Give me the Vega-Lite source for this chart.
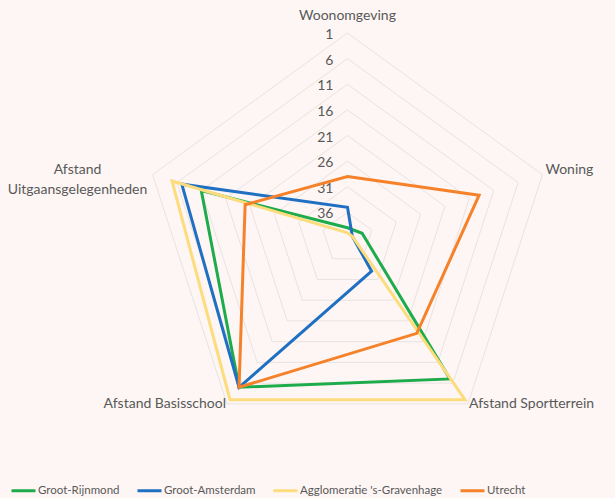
{
  "$schema": "https://vega.github.io/schema/vega-lite/v6.json",
  "width": 615,
  "height": 498,
  "autosize": {"type": "none"},
  "padding": 0,
  "background": "#fdf6f4",
  "config": {"view": {"stroke": null}, "font": "Lato"},
  "datasets": {
    "ranks": [
      {"series": "Groot-Rijnmond", "axis": "Woonomgeving", "rank": 39},
      {"series": "Groot-Rijnmond", "axis": "Woning", "rank": 38},
      {"series": "Groot-Rijnmond", "axis": "Afstand Sportterrein", "rank": 7},
      {"series": "Groot-Rijnmond", "axis": "Afstand Basisschool", "rank": 5},
      {"series": "Groot-Rijnmond", "axis": "Afstand Uitgaansgelegenheden", "rank": 11},
      {"series": "Groot-Amsterdam", "axis": "Woonomgeving", "rank": 35},
      {"series": "Groot-Amsterdam", "axis": "Woning", "rank": 40},
      {"series": "Groot-Amsterdam", "axis": "Afstand Sportterrein", "rank": 33},
      {"series": "Groot-Amsterdam", "axis": "Afstand Basisschool", "rank": 5},
      {"series": "Groot-Amsterdam", "axis": "Afstand Uitgaansgelegenheden", "rank": 7},
      {"series": "Agglomeratie 's-Gravenhage", "axis": "Woonomgeving", "rank": 40},
      {"series": "Agglomeratie 's-Gravenhage", "axis": "Woning", "rank": 40},
      {"series": "Agglomeratie 's-Gravenhage", "axis": "Afstand Sportterrein", "rank": 2},
      {"series": "Agglomeratie 's-Gravenhage", "axis": "Afstand Basisschool", "rank": 2},
      {"series": "Agglomeratie 's-Gravenhage", "axis": "Afstand Uitgaansgelegenheden", "rank": 5},
      {"series": "Utrecht", "axis": "Woonomgeving", "rank": 29},
      {"series": "Utrecht", "axis": "Woning", "rank": 14},
      {"series": "Utrecht", "axis": "Afstand Sportterrein", "rank": 18},
      {"series": "Utrecht", "axis": "Afstand Basisschool", "rank": 5},
      {"series": "Utrecht", "axis": "Afstand Uitgaansgelegenheden", "rank": 20}
    ],
    "levels": [
      {"level": 1, "k": [0, 1, 2, 3, 4]},
      {"level": 6, "k": [0, 1, 2, 3, 4]},
      {"level": 11, "k": [0, 1, 2, 3, 4]},
      {"level": 16, "k": [0, 1, 2, 3, 4]},
      {"level": 21, "k": [0, 1, 2, 3, 4]},
      {"level": 26, "k": [0, 1, 2, 3, 4]},
      {"level": 31, "k": [0, 1, 2, 3, 4]},
      {"level": 36, "k": [0, 1, 2, 3, 4]}
    ]
  },
  "layer": [
    {
      "data": {"name": "levels"},
      "transform": [
        {"flatten": ["k"]},
        {"calculate": "(41 - datum.level) / 40", "as": "r"},
        {"calculate": "datum.r * sin(datum.k * 2 * PI / 5)", "as": "px"},
        {"calculate": "datum.r * cos(datum.k * 2 * PI / 5)", "as": "py"}
      ],
      "mark": {"type": "line", "interpolate": "linear-closed", "stroke": "#e8e2e0", "strokeWidth": 1},
      "encoding": {
        "x": {"field": "px", "type": "quantitative", "scale": {"domain": [-1.6951, 1.3049], "nice": false, "zero": false}, "axis": null},
        "y": {"field": "py", "type": "quantitative", "scale": {"domain": [-1.26829, 1.16098], "nice": false, "zero": false}, "axis": null},
        "detail": {"field": "level"},
        "order": {"field": "k"}
      }
    },
    {
      "data": {"name": "levels"},
      "transform": [
        {"calculate": "(41 - datum.level) / 40", "as": "r"}
      ],
      "mark": {"type": "text", "align": "right", "baseline": "middle", "dx": -14, "dy": 2, "fontSize": 14, "color": "#595959"},
      "encoding": {
        "x": {"datum": 0, "type": "quantitative", "scale": {"domain": [-1.6951, 1.3049], "nice": false, "zero": false}, "axis": null},
        "y": {"field": "r", "type": "quantitative", "scale": {"domain": [-1.26829, 1.16098], "nice": false, "zero": false}, "axis": null},
        "text": {"field": "level", "type": "quantitative"}
      }
    },
    {
      "data": {"name": "ranks"},
      "transform": [
        {"calculate": "indexof(['Woonomgeving','Woning','Afstand Sportterrein','Afstand Basisschool','Afstand Uitgaansgelegenheden'], datum.axis)", "as": "k"},
        {"calculate": "(41 - datum.rank) / 40", "as": "r"},
        {"calculate": "datum.r * sin(datum.k * 2 * PI / 5)", "as": "px"},
        {"calculate": "datum.r * cos(datum.k * 2 * PI / 5)", "as": "py"}
      ],
      "mark": {"type": "line", "interpolate": "linear-closed", "strokeWidth": 3},
      "encoding": {
        "x": {"field": "px", "type": "quantitative", "scale": {"domain": [-1.6951, 1.3049], "nice": false, "zero": false}, "axis": null},
        "y": {"field": "py", "type": "quantitative", "scale": {"domain": [-1.26829, 1.16098], "nice": false, "zero": false}, "axis": null},
        "order": {"field": "k"},
        "color": {
          "field": "series",
          "type": "nominal",
          "sort": null,
          "scale": {
            "domain": ["Groot-Rijnmond", "Groot-Amsterdam", "Agglomeratie 's-Gravenhage", "Utrecht"],
            "range": ["#1eab4b", "#1f6fc2", "#fcdc7c", "#f5822b"]
          },
          "legend": {
            "orient": "none",
            "legendX": 10,
            "legendY": 477,
            "direction": "horizontal",
            "title": null,
            "symbolType": "stroke",
            "symbolStrokeWidth": 3,
            "symbolSize": 576,
            "labelFont": "Lato",
            "labelFontSize": 11.5,
            "labelColor": "#595959",
            "labelLimit": 400,
            "columnPadding": 11,
            "labelOffset": 1,
            "padding": 0
          }
        }
      }
    },
    {
      "data": {"name": "ranks"},
      "transform": [
        {"filter": "datum.series == 'Groot-Rijnmond'"},
        {"calculate": "indexof(['Woonomgeving','Woning','Afstand Sportterrein','Afstand Basisschool','Afstand Uitgaansgelegenheden'], datum.axis)", "as": "k"},
        {"calculate": "sin(datum.k * 2 * PI / 5)", "as": "px"},
        {"calculate": "cos(datum.k * 2 * PI / 5)", "as": "py"}
      ],
      "encoding": {
        "x": {"field": "px", "type": "quantitative", "scale": {"domain": [-1.6951, 1.3049], "nice": false, "zero": false}, "axis": null},
        "y": {"field": "py", "type": "quantitative", "scale": {"domain": [-1.26829, 1.16098], "nice": false, "zero": false}, "axis": null},
        "text": {"field": "axis"}
      },
      "layer": [
        {
          "transform": [{"filter": "datum.k == 0"}],
          "mark": {"type": "text", "align": "center", "baseline": "middle", "dy": -17, "fontSize": 14, "color": "#595959"}
        },
        {
          "transform": [{"filter": "datum.k == 1"}],
          "mark": {"type": "text", "align": "left", "baseline": "middle", "dx": 3, "dy": -5, "fontSize": 14, "color": "#595959"}
        },
        {
          "transform": [{"filter": "datum.k == 2"}],
          "mark": {"type": "text", "align": "left", "baseline": "middle", "dx": 1, "dy": 0, "fontSize": 14, "color": "#595959"}
        },
        {
          "transform": [{"filter": "datum.k == 3"}],
          "mark": {"type": "text", "align": "right", "baseline": "middle", "dx": -1, "dy": 0, "fontSize": 14, "color": "#595959"}
        },
        {
          "transform": [{"filter": "datum.k == 4"}],
          "mark": {"type": "text", "align": "center", "baseline": "middle", "dx": -75, "dy": -5, "fontSize": 14, "lineHeight": 20, "lineBreak": " ", "color": "#595959"}
        }
      ]
    }
  ]
}
